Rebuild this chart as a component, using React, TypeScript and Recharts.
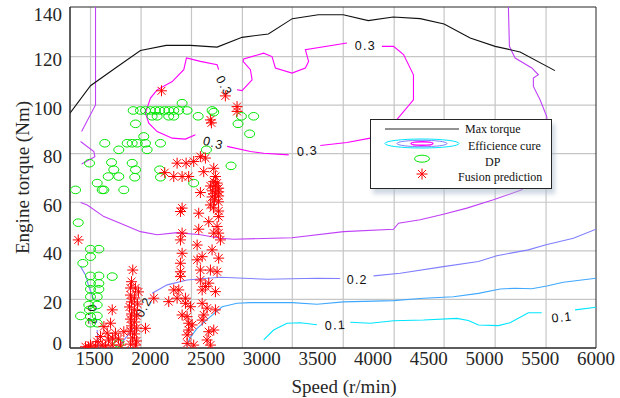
import React from "react";
import {
  CartesianGrid,
  ComposedChart,
  Legend,
  Line,
  ReferenceArea,
  ReferenceDot,
  Scatter,
  XAxis,
  YAxis,
} from "recharts";

type P = [number, number | null];

const speedTicks = [1500, 2000, 2500, 3000, 3500, 4000, 4500, 5000, 5500, 6000];
const torqueTicks = [0, 20, 40, 60, 80, 100, 120, 140];
const gridSpeeds = [1464, 1918, 2370, 2827, 3275, 3732, 4189, 4637, 5095, 5552];
const gridTorques = [20, 40, 60, 80, 100, 120];

const maxTorque: P[] = [
  [1280, 96.7], [1464, 108], [1688, 115.3], [1912, 122.5], [2143, 124.6], [2361, 124.6],
  [2600, 123.9], [2824, 127.9], [3060, 129.3], [3275, 135.6], [3508, 137.2], [3732, 137.2],
  [3956, 134.8], [4180, 136.3], [4422, 135.6], [4637, 133.4], [4871, 127.6], [5095, 124.2],
  [5319, 121.9], [5632, 114.2],
];

// efficiency contours, null = gap for a label / break
const effPurpleLeft: P[] = [
  [1509, 140.4], [1509, 100.1], [1384, 89.1], [1380, null],
  [1375, 85.0], [1494, 80.9], [1503, 78.8], [1384, 75.8],
];

const effPurple: P[] = [
  [5214, 140.4], [5223, 124.2], [5274, 119.4], [5424, 115.3], [5483, 112.5], [5438, 111.1],
  [5438, 107.7], [5498, 102.2], [5558, 95.3], [5570, 85.7], [5498, 73.4], [5334, 65.1],
  [5080, 61.0], [4841, 57.6], [4631, 55.1], [4422, 52.8], [4228, 51.4], [4183, 48.9],
  [3735, 47.9], [3272, 45.4], [2749, 44.8], [2630, 45.2], [2450, 46.6], [2241, 47.5],
  [2062, 46.6], [1912, 47.9], [1763, 50.7], [1584, 54.1], [1435, 58.9], [1375, 59.9],
];

const eff03: P[] = [
  [2405, 87.8], [2316, 86.0], [2197, 86.4], [2062, 89.1], [1987, 92.6], [1957, 96.7],
  [2002, 102.9], [2062, 106.3], [2197, 109.7], [2301, 114.6], [2325, 119.4], [2450, 118.0],
  [2600, 116.6], [2614, 114.6], [2700, null],
  [2779, 106.3], [2824, 106.0], [2914, 110.4], [2899, 114.6], [2833, 118.0], [2839, 119.0],
  [3018, 121.4], [3093, 120.0], [3123, 115.3], [3272, 113.2], [3392, 115.3], [3421, 118.0],
  [3392, 122.8], [3765, 125.6], [3900, null],
  [4079, 124.2], [4183, 124.2], [4273, 120.8], [4362, 112.5], [4362, 102.2], [4213, 94.0],
  [3974, 86.4], [3765, 84.6], [3526, 83.4], [3400, null],
  [3242, 79.5], [3018, 80.2], [2899, 80.9], [2690, 83.0],
];

const eff02: P[] = [
  [1375, 33.5], [1419, 30.1], [1449, 25.3], [1494, 19.8], [1510, null],
  [1524, 7.4], [1536, 0.5], [1600, null],
  [1706, 0], [1778, 4.1], [1850, 8.2], [1930, null],
  [2017, 22.5], [2152, 26.0], [2331, 28.0], [2510, 28.7], [2630, 29.1], [3048, 28.3],
  [3496, 28.7], [3705, 28.6], [3850, null],
  [4004, 29.7], [4243, 30.8], [4631, 33.5], [4945, 35.6], [5110, 38.0], [5393, 40.4],
  [5543, 42.4], [5797, 45.2], [6000, 48.9],
];

const eff015: P[] = [
  [2325, 0.8], [2361, 4.5], [2421, 8.1], [2540, 12.9], [2645, 17.0], [2779, 18.4],
  [2899, 18.7], [3272, 18.7], [3496, 18.0], [3735, 19.0], [4183, 19.5], [4452, 20.5],
  [4721, 21.1], [4945, 22.5], [5140, 24.3], [5274, 24.6], [5424, 24.4], [5558, 25.5],
  [5707, 27.1], [6000, 28.7],
];

const eff01: P[] = [
  [3018, 3.3], [3107, 7.4], [3227, 10.2], [3347, 10.4], [3496, 9.6], [3650, null],
  [3795, 10.6], [3974, 10.2], [4183, 11.2], [4452, 11.5], [4751, 12.2], [4855, 11.3],
  [4945, 9.5], [5124, 9.2], [5229, 10.4], [5393, 14.5], [5513, 14.5], [5650, null],
  [5812, 15.7], [6000, 16.8],
];

const contourLabels = [
  { x: 3930, y: 124.5, text: "0.3", angle: 0 },
  { x: 3410, y: 81.2, text: "0.3", angle: -4 },
  { x: 2567, y: 84.5, text: "0.3", angle: 14 },
  { x: 2665, y: 108.0, text: "0.3", angle: 62 },
  { x: 3858, y: 28.4, text: "0.2", angle: 0 },
  { x: 1939, y: 16.9, text: "0.2", angle: -62 },
  { x: 1482, y: 13.6, text: "0.2", angle: 88 },
  { x: 3661, y: 9.5, text: "0.1", angle: -3 },
  { x: 5695, y: 12.8, text: "0.1", angle: -6 },
];

const dpPoints: P[] = [
  [1847, 97.8], [1912, 97.8], [1957, 97.8], [2002, 97.8], [2047, 97.8], [2085, 97.8],
  [2128, 97.8], [2166, 97.8], [2211, 97.8], [2256, 97.8], [2331, 97.8], [2555, 97.8],
  [2017, 95.4], [2062, 95.4], [2166, 95.4], [2211, 95.4], [2430, 95.4], [2818, 95.4],
  [2928, 95.4], [2286, 100.8], [2570, 97.1],
  [1868, 92.3], [1942, 87.1], [1592, 84.3], [1793, 84.3], [1838, 84.3], [1883, 84.3],
  [1957, 84.3], [2092, 84.3], [1718, 81.6], [1972, 81.6], [2504, 81.6], [2788, 92.3],
  [2892, 88.2], [2725, 75.0],
  [1455, 76.1], [1653, 76.4], [1838, 76.1], [1673, 73.4], [1868, 73.4], [2085, 73.4],
  [1623, 70.6], [1718, 70.6], [1861, 70.3], [2092, 70.3], [1524, 67.9], [1569, 65.1],
  [1584, 65.1], [1763, 65.1], [1330, 65.1], [2390, 67.9],
  [1354, 51.6], [1395, 34.9], [1464, 40.7], [1539, 40.7], [1464, 37.6], [1659, 29.4],
  [1464, 29.7], [1539, 29.7], [1464, 26.6], [1539, 26.6], [1464, 24.2], [1539, 24.2],
  [1464, 21.1], [1524, 21.1], [1449, 17.7], [1524, 17.7], [1375, 13.2], [1455, 15.7],
  [1464, 12.9], [1524, 13.2], [1464, 10.2], [1524, 10.2], [1718, 1.9],
];

const fusionPoints: P[] = [
  [2101, 105.9], [2674, 103.8], [2779, 99.4], [2779, 97.4], [2540, 93.9], [2549, 92.7],
  [2130, 72.2], [1354, 44.5],
  [2450, 78.8], [2495, 78.2], [2390, 76.8], [2322, 76.1], [2241, 76.1], [2570, 74.0],
  [2480, 72.6], [2211, 70.6], [2286, 70.6], [2345, 70.6], [2585, 70.6], [2570, 68.5],
  [2600, 67.9], [2540, 66.7], [2585, 66.7], [2614, 65.8], [2558, 64.7], [2614, 64.3],
  [2450, 64.0], [2585, 63.7], [2614, 62.6], [2555, 62.2], [2576, 61.0], [2612, 60.2],
  [2540, 58.9], [2567, 57.7], [2614, 56.4],
  [2286, 57.6], [2271, 56.2], [2435, 55.5], [2525, 52.0], [2614, 54.1], [2600, 50.0],
  [2614, 47.3], [2630, 44.5], [2570, 47.3], [2435, 48.9], [2286, 47.3], [2271, 44.5],
  [2421, 42.4], [2555, 40.4], [2286, 39.0], [2466, 37.6], [2614, 37.0], [2421, 36.3],
  [2271, 34.9], [2450, 32.1], [2540, 32.1], [2271, 31.4], [2600, 31.4], [2271, 29.4],
  [2450, 28.0], [2525, 26.7], [2495, 25.3], [2466, 23.9], [2256, 23.9], [2211, 23.9],
  [2585, 23.2], [2241, 20.5], [2316, 20.5], [2032, 20.5], [2166, 19.1], [2316, 18.4],
  [2466, 18.4], [2361, 17.0], [2510, 16.4], [2585, 15.7], [2286, 13.6], [2480, 13.6],
  [2331, 12.9], [2466, 11.5], [2345, 10.2], [2376, 9.5], [2345, 7.4], [2570, 7.4],
  [2525, 6.7], [2331, 5.4], [2510, 3.3], [2331, 1.9], [2390, 1.2], [2540, 1.2],
  [1843, 32.1], [1832, 27.3], [1823, 24.7], [1868, 24.7], [1895, 23.1], [1823, 21.8],
  [1859, 20.6], [1832, 19.0], [1886, 18.1], [1814, 16.9], [1859, 15.7], [1832, 14.0],
  [1877, 13.2], [1823, 11.9], [1859, 10.7], [1832, 9.1], [1877, 8.2], [1823, 7.0],
  [1859, 5.8], [1841, 4.1], [1877, 2.9], [1957, 8.1], [1823, 1.6], [1868, 1.2],
  [1659, 15.7], [1644, 10.2], [1584, 8.8], [1614, 6.1], [1554, 4.7], [1524, 2.6],
  [1419, 0.5], [1464, 1.2], [1569, 1.2], [1659, 1.2], [1763, 6.7], [1688, 6.1],
  [1733, 1.2], [1509, 0.8], [1626, 3.3], [1715, 3.7], [1599, 0.8], [1446, 0.4], [1661, 4.1],
];

const legendLabels = ["Max torque", "Efficience cure", "DP", "Fusion prediction"];

const rows = (pts: P[]) => pts.map(([x, y]) => ({ x, y }));

const contourSeries = [
  { key: "purpleLeft", data: effPurpleLeft, stroke: "#c040f8" },
  { key: "purple", data: effPurple, stroke: "#c040f8" },
  { key: "e03", data: eff03, stroke: "#ff00ff" },
  { key: "e02", data: eff02, stroke: "#7f7fff" },
  { key: "e015", data: eff015, stroke: "#40a8ff" },
  { key: "e01", data: eff01, stroke: "#00e5ff" },
];

const serif = "'Liberation Serif', 'Times New Roman', serif";
const sans = "'Liberation Sans', Arial, sans-serif";

const Asterisk = ({ cx, cy, r = 5.5 }: { cx: number; cy: number; r?: number }) => {
  const d = r * 0.72;
  return (
    <g stroke="#ff0000" strokeWidth={1} fill="none">
      <line x1={cx - r} y1={cy} x2={cx + r} y2={cy} />
      <line x1={cx} y1={cy - r} x2={cx} y2={cy + r} />
      <line x1={cx - d} y1={cy - d} x2={cx + d} y2={cy + d} />
      <line x1={cx - d} y1={cy + d} x2={cx + d} y2={cy - d} />
    </g>
  );
};

const Ring = ({ cx, cy }: { cx: number; cy: number }) => (
  <ellipse cx={cx} cy={cy} rx={5} ry={3.8} stroke="#00e600" strokeWidth={1} fill="none" />
);

const XTick = (props: any) => (
  <text x={props.x} y={props.y} dy={16.5} textAnchor="middle" fontSize={19} fontFamily={serif} fill="#262626">
    {props.payload.value}
  </text>
);

const YTick = (props: any) => {
  const v = props.payload.value;
  const shift = v === 0 ? -5 : v === 140 ? 7 : 3;
  return (
    <text x={props.x - 8} y={props.y + shift} dy={6.5} textAnchor="end" fontSize={19} fontFamily={serif} fill="#262626">
      {v}
    </text>
  );
};

const ContourLabel = (label: { text: string; angle: number }) => (props: any) => (
  <text
    x={props.cx}
    y={props.cy}
    dy={4.5}
    textAnchor="middle"
    fontSize={12.5}
    letterSpacing={1.2}
    fontFamily={sans}
    fill="#111"
    transform={`rotate(${label.angle} ${props.cx} ${props.cy})`}
  >
    {label.text}
  </text>
);

const LegendBox = () => (
  <svg width={196} height={84} style={{ overflow: "visible", display: "block" }}>
    <defs>
      <filter id="lgShadow" x="-10%" y="-10%" width="130%" height="140%">
        <feGaussianBlur stdDeviation="2.2" />
      </filter>
    </defs>
    <rect x={3} y={5} width={182} height={70} fill="#a9b8cb" opacity={0.55} filter="url(#lgShadow)" />
    <rect x={0.5} y={0.5} width={181} height={69} fill="#ffffff" stroke="#262626" strokeWidth={1} />
    <line x1={15} y1={10} x2={89} y2={10} stroke="#262626" strokeWidth={1.2} />
    <ellipse cx={52} cy={24.5} rx={37} ry={4.5} fill="none" stroke="#00e5ff" />
    <ellipse cx={52} cy={24.5} rx={25} ry={3.2} fill="none" stroke="#7f7fff" />
    <ellipse cx={52} cy={24.5} rx={11} ry={1.8} fill="none" stroke="#ff00ff" strokeWidth={1.4} />
    <ellipse cx={52} cy={39.7} rx={7.5} ry={3.5} fill="none" stroke="#00e600" />
    <Asterisk cx={52} cy={55} r={5.5} />
    <g fontFamily={serif} fontSize={12} fill="#111">
      <text x={95} y={14}>{legendLabels[0]}</text>
      <text x={98} y={31}>{legendLabels[1]}</text>
      <text x={115} y={46.5}>{legendLabels[2]}</text>
      <text x={88} y={62}>{legendLabels[3]}</text>
    </g>
  </svg>
);

export default function App() {
  return (
    <div style={{ position: "absolute", left: 0, top: 0, width: 620, height: 398, background: "#fff" }}>
      <ComposedChart width={620} height={398} margin={{ top: 7, right: 24, bottom: 0, left: 0 }}>
        <CartesianGrid
          verticalValues={gridSpeeds}
          horizontalValues={gridTorques}
          stroke="#c6c6c6"
          strokeWidth={1.2}
        />
        <XAxis
          type="number"
          dataKey="x"
          domain={[1280, 6000]}
          allowDataOverflow
          ticks={speedTicks}
          interval={0}
          tickLine={false}
          tickSize={0}
          tickMargin={0}
          tick={<XTick />}
          height={50}
          axisLine={{ stroke: "#262626" }}
          label={{
            content: (p: any) => (
              <text
                x={p.viewBox.x + p.viewBox.width / 2 + 11}
                y={p.viewBox.y + 44.5}
                textAnchor="middle"
                fontSize={19}
                fontFamily={serif}
                fill="#262626"
              >
                Speed (r/min)
              </text>
            ),
          }}
        />
        <YAxis
          type="number"
          dataKey="y"
          domain={[0, 140.4]}
          allowDataOverflow
          ticks={torqueTicks}
          interval={0}
          tickLine={false}
          tickSize={0}
          tickMargin={0}
          tick={<YTick />}
          width={70}
          axisLine={{ stroke: "#262626" }}
          label={{
            content: (p: any) => {
              const cx = p.viewBox.x + 22;
              const cy = p.viewBox.y + p.viewBox.height / 2;
              return (
                <text
                  x={cx}
                  y={cy}
                  dy={6.5}
                  textAnchor="middle"
                  fontSize={19}
                  fontFamily={serif}
                  fill="#262626"
                  transform={`rotate(-90 ${cx} ${cy})`}
                >
                  Engine torque (Nm)
                </text>
              );
            },
          }}
        />
        <ReferenceArea x1={1280} x2={6000} y1={0} y2={140.4} fill="none" stroke="#262626" strokeWidth={1} />
        {contourSeries.map((c) => (
          <Line
            key={c.key}
            data={rows(c.data)}
            dataKey="y"
            type="linear"
            stroke={c.stroke}
            strokeWidth={1.1}
            dot={false}
            activeDot={false}
            connectNulls={false}
            isAnimationActive={false}
            legendType="none"
          />
        ))}
        <Line
          data={rows(maxTorque)}
          dataKey="y"
          name="Max torque"
          type="linear"
          stroke="#111"
          strokeWidth={1.1}
          dot={false}
          activeDot={false}
          isAnimationActive={false}
        />
        {contourLabels.map((l, i) => (
          <ReferenceDot key={i} x={l.x} y={l.y} r={0} shape={ContourLabel(l)} />
        ))}
        <Scatter
          data={rows(dpPoints)}
          name="DP"
          shape={(p: any) => <Ring cx={p.cx} cy={p.cy} />}
          isAnimationActive={false}
        />
        <Scatter
          data={rows(fusionPoints)}
          name="Fusion prediction"
          shape={(p: any) => <Asterisk cx={p.cx} cy={p.cy} />}
          isAnimationActive={false}
        />
        <Legend
          layout="horizontal"
          verticalAlign="middle"
          align="center"
          content={() => <LegendBox />}
          wrapperStyle={{ position: "absolute", left: 370, top: 119, width: 196, height: 84, lineHeight: 0 }}
        />
      </ComposedChart>
    </div>
  );
}
